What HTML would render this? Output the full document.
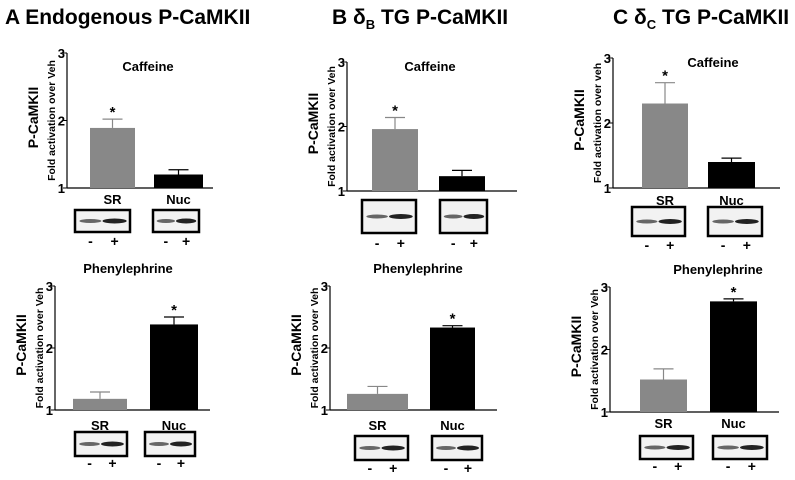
<!DOCTYPE html>
<html><head><meta charset="utf-8"><style>
body{margin:0;background:#fff;}
svg text{font-family:"Liberation Sans",Arial,sans-serif;font-weight:bold;}
</style></head><body>
<svg id="fig" width="795" height="475" viewBox="0 0 795 475" xmlns="http://www.w3.org/2000/svg">
<text x="5" y="24" font-size="21">A  Endogenous P-CaMKII</text>
<text x="332" y="24" font-size="21">B   δ<tspan font-size="13" dy="5">B</tspan><tspan dy="-5"> TG P-CaMKII</tspan></text>
<text x="613" y="24" font-size="21">C   δ<tspan font-size="13" dy="5">C</tspan><tspan dy="-5"> TG P-CaMKII</tspan></text>
</svg>
<script>
const categories=["SR","Nuc"];
const aCafVals=[1.89,1.2], aCafErr=[0.13,0.07];
const aPheVals=[1.18,2.38], aPheErr=[0.11,0.12];
const bCafVals=[1.96,1.23], bCafErr=[0.18,0.09];
const bPheVals=[1.26,2.33], bPheErr=[0.12,0.03];
const cCafVals=[2.3,1.4], cCafErr=[0.32,0.06];
const cPheVals=[1.52,2.77], cPheErr=[0.17,0.04];
const ticks=[1,2,3];
const sig=[[true,false],[false,true],[true,false],[false,true],[true,false],[false,true]];
const NS="http://www.w3.org/2000/svg";
const svg=document.getElementById('fig');
function mk(t,a,p){const e=document.createElementNS(NS,t);for(const k in a)e.setAttribute(k,a[k]);(p||svg).appendChild(e);return e;}
const panels=[
{id:"a-caffeine",title:"Caffeine",vals:aCafVals,err:aCafErr,ax:67,y3:53,y1:188,xe:213,bars:[[90,135],[154,203]],tx:148,ty:71,ly:204,blots:[[75,130],[153,199]],by:[210,232],my:246,lab:"Veh"},
{id:"a-phenylephrine",title:"Phenylephrine",vals:aPheVals,err:aPheErr,ax:55,y3:286,y1:410,xe:210,bars:[[73,127],[150,198]],tx:128,ty:273,ly:430,blots:[[75,127],[145,195]],by:[432,456],my:468,lab:"Veh"},
{id:"b-caffeine",title:"Caffeine",vals:bCafVals,err:bCafErr,ax:347,y3:62,y1:191,xe:517,bars:[[372,418],[439,485]],tx:430,ty:71,ly:208,blots:[[362,416],[440,487]],by:[200,233],my:248,lab:"Veh"},
{id:"b-phenylephrine",title:"Phenylephrine",vals:bPheVals,err:bPheErr,ax:330,y3:286,y1:410,xe:497,bars:[[347,408],[430,475]],tx:418,ty:273,ly:430,blots:[[355,408],[432,482]],by:[436,460],my:473,lab:"Veh"},
{id:"c-caffeine",title:"Caffeine",vals:cCafVals,err:cCafErr,ax:613,y3:58,y1:188,xe:780,bars:[[642,688],[708,755]],tx:713,ty:67,ly:205,blots:[[632,685],[708,762]],by:[207,236],my:250,lab:"veh"},
{id:"c-phenylephrine",title:"Phenylephrine",vals:cPheVals,err:cPheErr,ax:610,y3:287,y1:412,xe:779,bars:[[640,687],[710,757]],tx:718,ty:274,ly:428,blots:[[640,693],[713,767]],by:[436,459],my:471,lab:"Veh"}
];
panels.forEach((p,pi)=>{
  const g=mk('g',{});
  
  
  const y=v=>p.y1+(v-1)*(p.y3-p.y1)/2;
  const l1=mk('line',{x1:p.ax,y1:p.y3,x2:p.ax,y2:p.y1,stroke:'#000','stroke-width':1.2},g);
  
  
  const l2=mk('line',{x1:p.ax,y1:p.y1,x2:p.xe,y2:p.y1,stroke:'#000','stroke-width':1.2},g);
  
  
  ticks.forEach(t=>{
    mk('line',{x1:p.ax-4,y1:y(t),x2:p.ax,y2:y(t),stroke:'#000'},g);
    const tt=mk('text',{x:p.ax-2,y:y(t)+5,'font-size':13,'text-anchor':'end'},g);
    tt.textContent=t;
    
    
  });
  const mid=(p.y3+p.y1)/2-3;
  const yt=mk('text',{x:0,y:0,'font-size':14,'text-anchor':'middle',transform:`translate(${p.ax-29},${mid}) rotate(-90)`},g);
  yt.textContent='P-CaMKII';
  
  
  const ys=mk('text',{x:0,y:0,'font-size':10.5,'text-anchor':'middle',transform:`translate(${p.ax-12},${mid+3}) rotate(-90)`},g);
  ys.textContent='Fold activation over '+p.lab;
  
  
  const ti=mk('text',{x:p.tx,y:p.ty,'font-size':13,'text-anchor':'middle'},g);
  ti.textContent=p.title;
  
  
  categories.forEach((c,i)=>{
    const [x0,x1]=p.bars[i],cx=(x0+x1)/2,v=p.vals[i],e=p.err[i];
    mk('line',{x1:cx,y1:y(v),x2:cx,y2:y(v+e),stroke:i?'#000':'#888','stroke-width':1.2},g);
    mk('line',{x1:cx-10,y1:y(v+e),x2:cx+10,y2:y(v+e),stroke:i?'#000':'#888','stroke-width':1.2},g);
    const r=mk('rect',{x:x0,y:y(v),width:x1-x0,height:p.y1-y(v),fill:i?'#000':'#888'},g);
    
    
    if(sig[pi][i]){const s=mk('text',{x:cx,y:y(v+e)-2,'font-size':15,'text-anchor':'middle'},g);s.textContent='*';
      
      }
    const lb=mk('text',{x:cx,y:p.ly,'font-size':13,'text-anchor':'middle'},g);
    lb.textContent=c;
    
    
    const [b0,b1]=p.blots[i];
    const bx=mk('rect',{x:b0,y:p.by[0],width:b1-b0,height:p.by[1]-p.by[0],fill:'#f2f2f2',stroke:'#000','stroke-width':2.5},g);
    
    
    const bm=(p.by[0]+p.by[1])/2,w=b1-b0;
    mk('ellipse',{cx:b0+w*0.28,cy:bm,rx:w*0.2,ry:2,fill:'#666'},g);
    mk('ellipse',{cx:b0+w*0.72,cy:bm,rx:w*0.22,ry:2.5,fill:'#222'},g);
    const m1=mk('text',{x:b0+w*0.28,y:p.my,'font-size':14,'text-anchor':'middle'},g);m1.textContent='-';
    
    
    const m2=mk('text',{x:b0+w*0.72,y:p.my,'font-size':14,'text-anchor':'middle'},g);m2.textContent='+';
    
    
  });
});
</script>
</body></html>
